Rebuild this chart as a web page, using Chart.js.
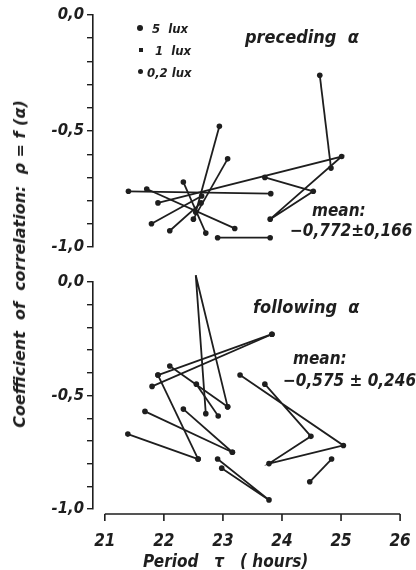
<!DOCTYPE html>
<html>
<head>
<meta charset="utf-8">
<script src="https://cdn.jsdelivr.net/npm/chart.js@4.4.1/dist/chart.umd.min.js"></script>
<style>
  html, body { margin:0; padding:0; background:#fff; }
  #wrap { position:relative; width:416px; height:570px; overflow:hidden; background:#fff; }
  canvas { position:absolute; left:0; top:0; }
  .t { position:absolute; white-space:nowrap; color:#1e1e1e; font-family:"DejaVu Sans Condensed","DejaVu Sans",sans-serif; font-style:italic; font-weight:bold; line-height:1; }
  .leg { font-size:13px; }
  .ann { font-size:18px; }
  .mean { font-size:17px; }
  #ytitle { font-family:"DejaVu Sans",sans-serif; font-size:16px; left:20px; top:264px; transform:translate(-50%,-50%) rotate(-90deg); }
  #xtitle { font-size:17px; left:143px; top:553px; }
  .mk { position:absolute; background:#1e1e1e; }
</style>
</head>
<body>
<div id="wrap">
  <canvas id="top" width="416" height="570"></canvas>
  <canvas id="bot" width="416" height="570"></canvas>

  <div class="mk" style="left:137px;top:25px;width:6px;height:6px;border-radius:50%"></div>
  <div class="t leg" style="left:152px;top:22px">5&nbsp; lux</div>
  <div class="mk" style="left:139px;top:48px;width:4px;height:4px"></div>
  <div class="t leg" style="left:155px;top:44px">1&nbsp; lux</div>
  <div class="mk" style="left:138px;top:69px;width:5px;height:5px;border-radius:50%"></div>
  <div class="t leg" style="left:147px;top:66px">0,2 lux</div>

  <div class="t ann" style="left:245px;top:28px">preceding&nbsp; α</div>
  <div class="t mean" style="left:312px;top:202px">mean:</div>
  <div class="t mean" style="left:290px;top:222px">−0,772±0,166</div>

  <div class="t ann" style="left:253px;top:298px">following&nbsp; α</div>
  <div class="t mean" style="left:293px;top:350px">mean:</div>
  <div class="t mean" style="left:283px;top:372px">−0,575 ± 0,246</div>

  <div class="t" id="ytitle">Coefficient&nbsp; of&nbsp; correlation:&nbsp; ρ = f (α)</div>
  <div class="t" id="xtitle">Period&nbsp;&nbsp; τ&nbsp;&nbsp; ( hours)</div>
</div>
<script>
// ---- data (period in hours, correlation coefficient) ----
const xTicks = [21, 22, 23, 24, 25, 26];
const yTicks = [0, -0.5, -1];

// preceding alpha
const pre01 = [[24.64, -0.26], [24.83, -0.66]];
const pre02 = [[23.71, -0.70], [24.53, -0.76], [23.80, -0.88], [25.01, -0.61], [21.90, -0.81]];
const pre03 = [[21.40, -0.76], [23.81, -0.77]];
const pre04 = [[21.71, -0.75], [23.20, -0.92]];
const pre05 = [[22.33, -0.72], [22.71, -0.94]];
const pre06 = [[22.94, -0.48], [22.54, -0.85]];
const pre07 = [[23.08, -0.62], [22.50, -0.88]];
const pre08 = [[21.79, -0.90], [22.64, -0.78]];
const pre09 = [[22.10, -0.93], [22.63, -0.81]];
const pre10 = [[22.91, -0.96], [23.80, -0.96]];

// following alpha
const fol01 = [[22.71, -0.58], [22.54, 0.03], [23.08, -0.55]];
const fol02 = [[21.80, -0.46], [23.83, -0.23]];
const fol03 = [[21.90, -0.41], [23.83, -0.23]];
const fol04 = [[22.10, -0.37], [23.08, -0.55]];
const fol05 = [[22.55, -0.45], [22.92, -0.59]];
const fol06 = [[21.90, -0.41], [22.58, -0.78]];
const fol07 = [[21.68, -0.57], [23.16, -0.75]];
const fol08 = [[22.33, -0.56], [23.16, -0.75]];
const fol09 = [[21.39, -0.67], [22.58, -0.78]];
const fol10 = [[22.91, -0.78], [23.78, -0.96], [22.98, -0.82]];
const fol11 = [[23.71, -0.45], [24.49, -0.68], [23.78, -0.80], [25.04, -0.72], [23.29, -0.41]];
const fol12 = [[24.47, -0.88], [24.84, -0.78]];

const precedingSets = [pre01, pre02, pre03, pre04, pre05, pre06, pre07, pre08, pre09, pre10];
const followingSets = [fol01, fol02, fol03, fol04, fol05, fol06, fol07, fol08, fol09, fol10, fol11, fol12];

const INK = '#1e1e1e';
const FONT = '"DejaVu Sans Condensed","DejaVu Sans",sans-serif';

function toDatasets(sets) {
  return sets.map(s => ({
    data: s.map(p => ({ x: p[0], y: p[1] })),
    showLine: true,
    borderColor: INK,
    borderWidth: 1.8,
    pointRadius: 2.8,
    pointBackgroundColor: INK,
    pointBorderWidth: 0,
    pointHoverRadius: 2.8,
    clip: false
  }));
}

function yLabel(v) {
  for (const t of yTicks) {
    if (Math.abs(v - t) < 1e-6) return (t === 0 ? '0,0' : t.toFixed(1).replace('.', ','));
  }
  return '';
}

function yScale() {
  return {
    type: 'linear', min: -1, max: 0,
    afterFit: s => { s.width = 93; },
    border: { display: true, color: INK, width: 1.6 },
    grid: { display: true, drawOnChartArea: false, drawTicks: true, tickLength: 6, color: INK, lineWidth: 1.4 },
    ticks: { stepSize: 0.1, padding: 3, color: INK, callback: yLabel, autoSkip: false,
             font: { family: FONT, size: 16.5, style: 'italic', weight: 'bold' } }
  };
}

const xAxisLine = {
  id: 'xAxisLine',
  afterDraw(chart) {
    const xs = chart.scales.x, ctx = chart.ctx;
    const y0 = chart.chartArea.bottom + 5;
    ctx.save();
    ctx.strokeStyle = INK; ctx.lineWidth = 1.6;
    ctx.beginPath();
    ctx.moveTo(xs.getPixelForValue(xTicks[0]), y0);
    ctx.lineTo(xs.getPixelForValue(xTicks[xTicks.length - 1]), y0);
    xTicks.forEach(v => { const p = xs.getPixelForValue(v); ctx.moveTo(p, y0); ctx.lineTo(p, y0 + 7); });
    ctx.stroke();
    ctx.restore();
  }
};

const common = {
  responsive: false, animation: false, devicePixelRatio: 1,
  plugins: { legend: { display: false }, tooltip: { enabled: false } },
  events: []
};

new Chart(document.getElementById('top'), {
  type: 'scatter',
  data: { datasets: toDatasets(precedingSets) },
  options: Object.assign({}, common, {
    layout: { padding: { top: 15, bottom: 323, left: 0, right: 10 } },
    scales: {
      x: { type: 'linear', min: 20.8, max: 26.1, display: false },
      y: yScale()
    }
  })
});

new Chart(document.getElementById('bot'), {
  type: 'scatter',
  data: { datasets: toDatasets(followingSets) },
  options: Object.assign({}, common, {
    layout: { padding: { top: 282, bottom: 0, left: 0, right: 10 } },
    scales: {
      x: {
        type: 'linear', min: 20.8, max: 26.1,
        afterFit: s => { s.height = 61; s.paddingLeft = 0; s.paddingRight = 0; },
        afterBuildTicks: s => { s.ticks = xTicks.map(v => ({ value: v })); },
        border: { display: false },
        grid: { display: false, drawTicks: false },
        ticks: { padding: 22, color: INK, autoSkip: false, maxRotation: 0,
                 callback: v => String(v),
                 font: { family: FONT, size: 17, style: 'italic', weight: 'bold' } },
        title: { display: false }
      },
      y: yScale()
    }
  }),
  plugins: [xAxisLine]
});
</script>
</body>
</html>
